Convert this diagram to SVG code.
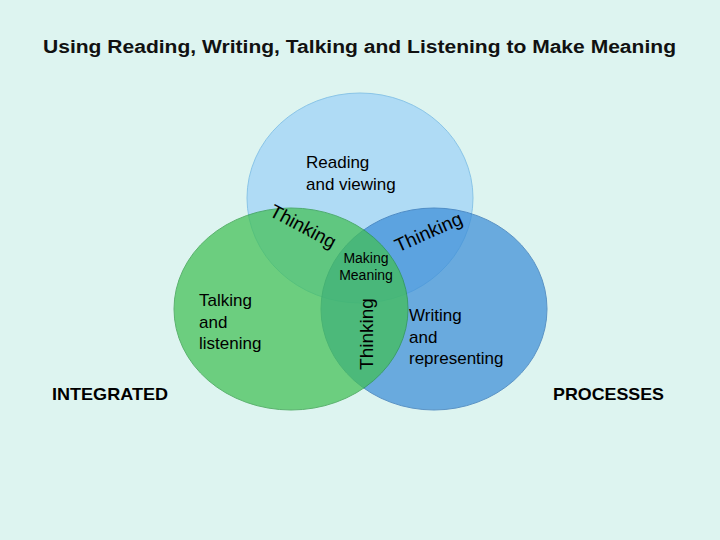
<svg xmlns="http://www.w3.org/2000/svg" width="720" height="540" viewBox="0 0 720 540">
<style>
text{font-family:"Liberation Sans",Arial,sans-serif;fill:#000}
.l{font-size:17px}
.t{font-size:19px}
.b{font-size:17px;font-weight:bold}
</style>
<rect width="720" height="540" fill="#ddf4f0"/>
<text x="43" y="53" textLength="633" lengthAdjust="spacingAndGlyphs" style="font-size:18px;font-weight:bold;fill:#111">Using Reading, Writing, Talking and Listening to Make Meaning</text>
<g id="reading">
<ellipse cx="360" cy="198" rx="113" ry="105" fill="#a7d7f7" stroke="#7cbde6" stroke-width="1" opacity="0.85"/>
<text class="l" x="306" y="168">Reading</text>
<text class="l" x="306" y="190">and viewing</text>
</g>
<g id="writing">
<ellipse cx="434" cy="309" rx="113" ry="101" fill="#3d8ed8" stroke="#2a6fb5" stroke-width="1" opacity="0.72"/>
<text class="l" x="409" y="321">Writing</text>
<text class="l" x="409" y="343">and</text>
<text class="l" x="409" y="364">representing</text>
</g>
<g id="talking">
<ellipse cx="291" cy="309" rx="117" ry="101" fill="#42c054" stroke="#2a9a3e" stroke-width="1" opacity="0.72"/>
<text class="l" x="199" y="306">Talking</text>
<text class="l" x="199" y="328">and</text>
<text class="l" x="199" y="349">listening</text>
</g>
<g id="center">
<text x="366" y="263" text-anchor="middle" style="font-size:14px">Making</text>
<text x="366" y="280" text-anchor="middle" style="font-size:14px">Meaning</text>
<text class="t" transform="translate(373,334) rotate(-90)" text-anchor="middle">Thinking</text>
<text class="t" transform="translate(300,232) rotate(28)" text-anchor="middle">Thinking</text>
<text class="t" transform="translate(431,238) rotate(-24)" text-anchor="middle">Thinking</text>
</g>
<text class="b" x="52" y="400" textLength="116" lengthAdjust="spacingAndGlyphs">INTEGRATED</text>
<text class="b" x="553" y="400" textLength="111" lengthAdjust="spacingAndGlyphs">PROCESSES</text>
</svg>
